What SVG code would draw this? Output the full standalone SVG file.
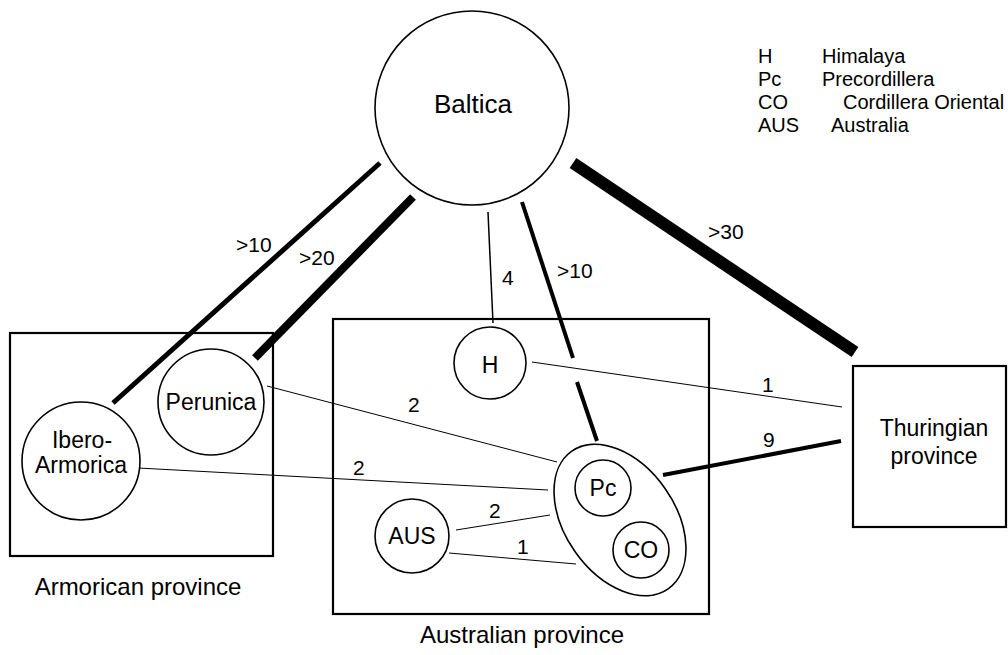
<svg xmlns="http://www.w3.org/2000/svg" width="1008" height="655" viewBox="0 0 1008 655">
<style>
  text { font-family: "Liberation Sans", Arial, sans-serif; fill: #000; }
  .node { fill: #fff; stroke: #000; stroke-width: 1.6; }
  .box { fill: none; stroke: #000; stroke-width: 2.2; }
  .nt { font-size: 23px; text-anchor: middle; }
  .pt { font-size: 24px; text-anchor: middle; }
  .lab { font-size: 21px; }
  .leg { font-size: 20px; }
  .c { stroke: #000; fill: none; stroke-linecap: butt; }
</style>
<rect width="1008" height="655" fill="#fff"/>

<g id="armorican-province">
  <rect class="box" x="10" y="333" width="263" height="223"/>
  <text class="pt" x="138" y="595">Armorican province</text>
</g>
<g id="australian-province">
  <rect class="box" x="333" y="319" width="376" height="295"/>
  <text class="pt" x="522" y="643">Australian province</text>
</g>

<g id="connectors">
  <line class="c" x1="380" y1="163" x2="113" y2="403" stroke-width="5"/>
  <line class="c" x1="413" y1="197" x2="255" y2="358" stroke-width="8"/>
  <line class="c" x1="488" y1="212" x2="493" y2="323" stroke-width="1.5"/>
  <line class="c" x1="522" y1="202" x2="573" y2="358" stroke-width="4"/>
  <line class="c" x1="577" y1="382" x2="597" y2="441" stroke-width="4"/>
  <line class="c" x1="573" y1="163" x2="855" y2="352" stroke-width="12"/>
  <line class="c" x1="532" y1="362" x2="842" y2="407" stroke-width="1"/>
  <line class="c" x1="663" y1="475" x2="841" y2="441" stroke-width="4"/>
  <line class="c" x1="267" y1="386" x2="557" y2="462" stroke-width="1"/>
  <line class="c" x1="138" y1="468" x2="548" y2="490" stroke-width="1"/>
  <line class="c" x1="456" y1="530" x2="550" y2="515" stroke-width="1"/>
  <line class="c" x1="449" y1="553" x2="576" y2="564" stroke-width="1"/>
  <text class="lab" x="236" y="252">&gt;10</text>
  <text class="lab" x="299" y="265">&gt;20</text>
  <text class="lab" x="502" y="285">4</text>
  <text class="lab" x="557" y="278">&gt;10</text>
  <text class="lab" x="708" y="239">&gt;30</text>
  <text class="lab" x="408" y="412">2</text>
  <text class="lab" x="353" y="475">2</text>
  <text class="lab" x="489" y="518">2</text>
  <text class="lab" x="517" y="554">1</text>
  <text class="lab" x="762" y="392">1</text>
  <text class="lab" x="763" y="447">9</text>
</g>

<g id="baltica">
  <circle class="node" cx="472" cy="108" r="97"/>
  <text x="473" y="113" font-size="26" text-anchor="middle">Baltica</text>
</g>
<g id="ibero-armorica">
  <circle class="node" cx="81" cy="461" r="59"/>
  <text class="nt" x="82" y="448">Ibero-</text>
  <text class="nt" x="81" y="473">Armorica</text>
</g>
<g id="perunica">
  <circle class="node" cx="211" cy="402" r="53"/>
  <text class="nt" x="211" y="410">Perunica</text>
</g>
<g id="himalaya">
  <circle class="node" cx="490" cy="363" r="36"/>
  <text class="nt" x="490" y="373">H</text>
</g>
<g id="aus">
  <circle class="node" cx="412" cy="536" r="37"/>
  <text class="nt" x="412" y="544">AUS</text>
</g>
<g id="pc-co-group">
  <ellipse class="node" cx="620" cy="520" rx="84" ry="55" transform="rotate(55 620 520)"/>
</g>
<g id="pc">
  <circle class="node" cx="603" cy="488" r="28"/>
  <text class="nt" x="603" y="496">Pc</text>
</g>
<g id="co">
  <circle class="node" cx="641" cy="550" r="28"/>
  <text class="nt" x="641" y="558">CO</text>
</g>
<g id="thuringian">
  <rect class="box" x="853" y="366" width="153" height="161" fill="#fff"/>
  <text class="nt" x="934" y="436">Thuringian</text>
  <text class="nt" x="934" y="464">province</text>
</g>

<g id="legend">
  <text class="leg" x="758" y="63">H</text>
  <text class="leg" x="822" y="63">Himalaya</text>
  <text class="leg" x="758" y="86">Pc</text>
  <text class="leg" x="822" y="86">Precordillera</text>
  <text class="leg" x="758" y="109">CO</text>
  <text class="leg" x="843" y="109">Cordillera Oriental</text>
  <text class="leg" x="758" y="132">AUS</text>
  <text class="leg" x="831" y="132">Australia</text>
</g>
</svg>
